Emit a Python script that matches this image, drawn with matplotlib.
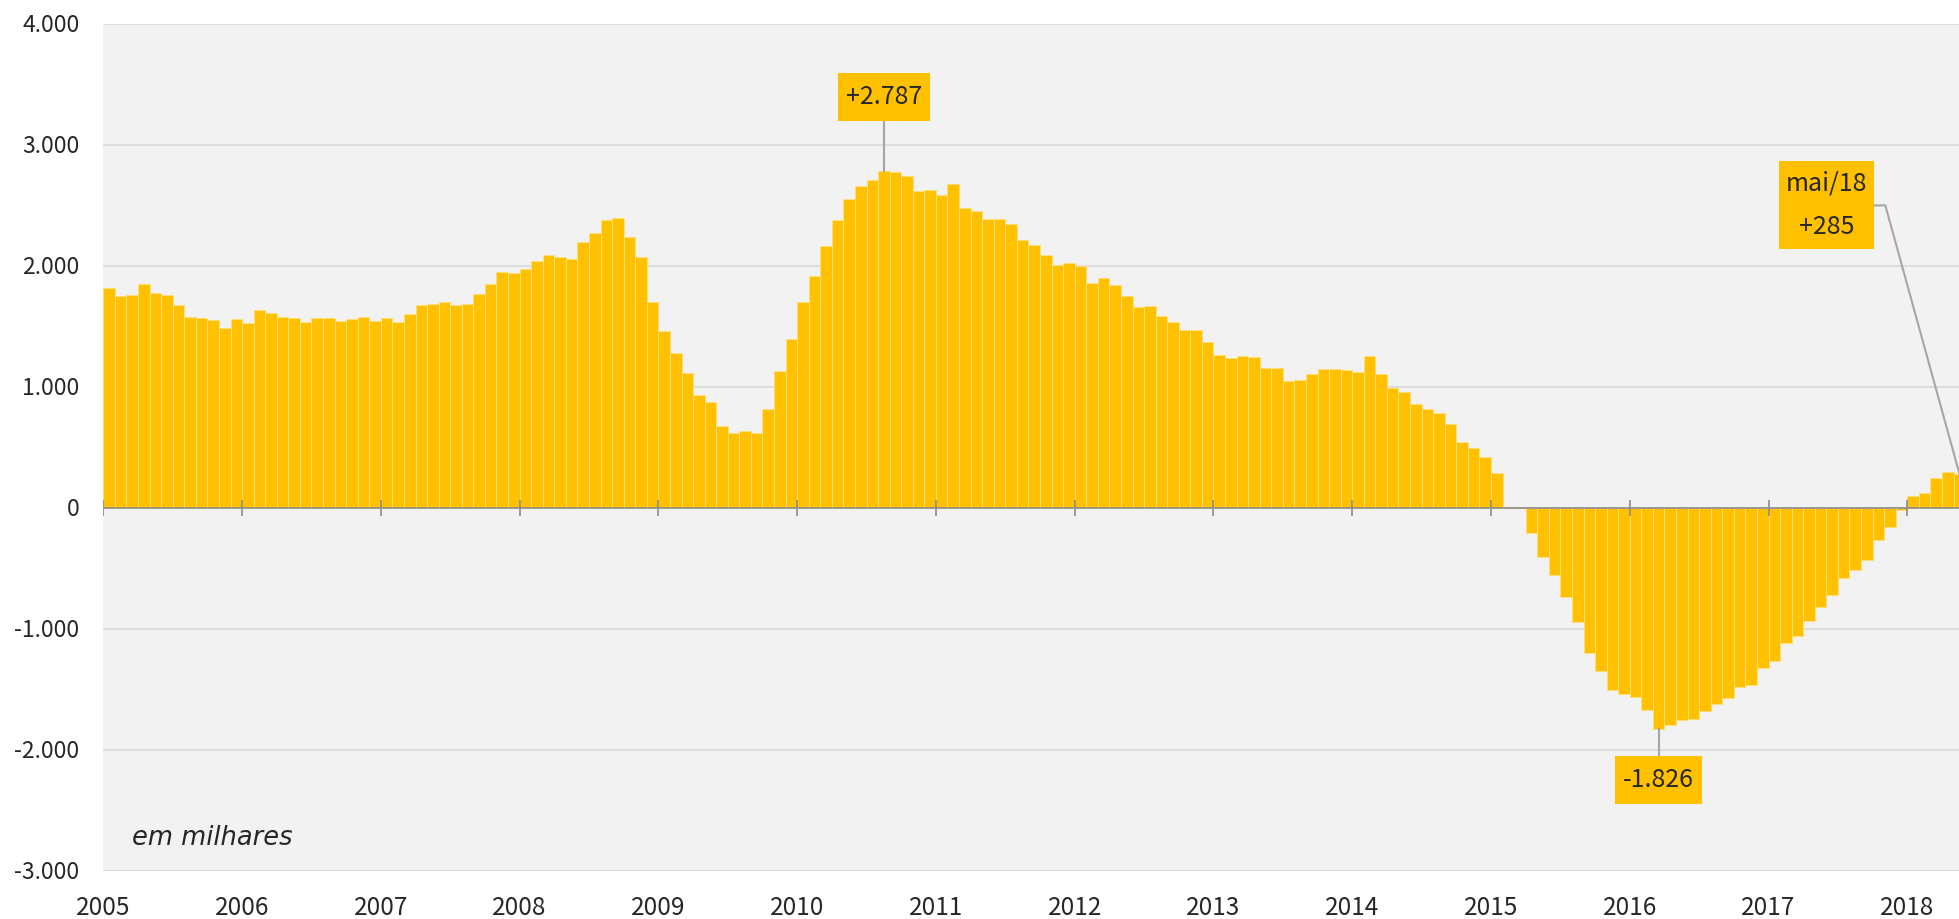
"""Saldo de empregos formais acumulado em 12 meses (em milhares), jan/2005 a mai/2018."""

import matplotlib
matplotlib.use("Agg")
import matplotlib.pyplot as plt
import numpy as np
from matplotlib.patches import Rectangle
from matplotlib.transforms import offset_copy

plt.rcParams["font.family"] = ["Noto Sans CJK JP", "DejaVu Sans"]

# 12-month accumulated balance, thousands, one value per month
y2005 = [1818, 1752, 1758, 1851, 1777, 1763, 1675, 1581, 1573, 1557, 1490, 1562]
y2006 = [1529, 1639, 1612, 1581, 1570, 1535, 1570, 1570, 1548, 1562, 1581, 1548]
y2007 = [1573, 1537, 1603, 1675, 1686, 1705, 1678, 1686, 1766, 1851, 1948, 1940]
y2008 = [1978, 2039, 2094, 2077, 2061, 2198, 2273, 2378, 2397, 2243, 2072, 1705]
y2009 = [1463, 1278, 1119, 931, 876, 680, 620, 634, 620, 818, 1130, 1397]
y2010 = [1703, 1915, 2168, 2378, 2557, 2661, 2708, 2787, 2780, 2747, 2623, 2628]
y2011 = [2590, 2681, 2482, 2452, 2389, 2389, 2347, 2218, 2176, 2094, 2008, 2025]
y2012 = [2003, 1860, 1898, 1843, 1749, 1661, 1667, 1590, 1537, 1468, 1471, 1372]
y2013 = [1267, 1237, 1254, 1245, 1160, 1154, 1047, 1055, 1110, 1149, 1146, 1141]
y2014 = [1124, 1259, 1110, 989, 961, 857, 815, 782, 694, 548, 496, 422]
y2015 = [290, 8, 11, -207, -405, -554, -733, -942, -1198, -1350, -1504, -1535]
y2016 = [-1562, -1672, -1826, -1796, -1752, -1741, -1678, -1623, -1568, -1477, -1460, -1325]
y2017 = [-1265, -1119, -1061, -931, -818, -716, -581, -510, -430, -264, -154, -17]
y2018 = [102, 124, 248, 298, 285]

years = list(range(2005, 2019))
yticks = [-3000, -2000, -1000, 0, 1000, 2000, 3000, 4000]

values = np.array(y2005 + y2006 + y2007 + y2008 + y2009 + y2010 + y2011
                  + y2012 + y2013 + y2014 + y2015 + y2016 + y2017 + y2018)
months = np.arange(len(values))

GOLD = "#FFC000"
TEXT = "#262626"
LINE = "#a6a6a6"


def fmt(v):
    return f"{v:,.0f}".replace(",", ".")


def callout(ax, x, y, text, box, line_pts):
    """box = (x0, y0, x1, y1) in data units, line_pts = polyline from the bar to the box."""
    xs, ys = zip(*line_pts)
    ax.plot(xs, ys, color=LINE, lw=1.5, zorder=4, clip_on=False)
    x0, y0, x1, y1 = box
    ax.add_patch(Rectangle((x0, y0), x1 - x0, y1 - y0, facecolor=GOLD,
                           edgecolor="none", zorder=5))
    ax.text((x0 + x1) / 2, (y0 + y1) / 2, text, ha="center", va="center",
            fontsize=18, color=TEXT, zorder=6, linespacing=1.9)


fig = plt.figure(figsize=(19.59, 9.19), dpi=100)
ax = fig.add_axes([0.05273, 0.05223, 0.94727, 0.92165])
ax.set_facecolor("#f2f2f2")
for s in ax.spines.values():
    s.set_visible(False)

ax.bar(months, values, width=1.0, align="edge", color=GOLD,
       edgecolor="#ffdf7a", linewidth=0.7, zorder=2)

ax.set_xlim(0, 160.47)
ax.set_ylim(-3000, 4000)
ax.set_xticks([])
ax.set_yticks([])
for v in yticks:
    ax.axhline(v, color="#d9d9d9", lw=1.2, zorder=1)

# zero line with year ticks across it
ax.axhline(0, color="#8c8c8c", lw=1.2, zorder=3)
year_pos = np.arange(len(years)) * 12
ax.vlines(year_pos, -70, 70, color="#8c8c8c", lw=1.2, zorder=3)

ytrans = offset_copy(ax.get_yaxis_transform(), fig=fig, x=-24, y=-7.5, units="dots")
for v in yticks:
    ax.text(0, v, fmt(v), transform=ytrans, ha="right", va="baseline",
            fontsize=16.5, color=TEXT)

xtrans = offset_copy(ax.get_xaxis_transform(), fig=fig, y=-44, units="dots")
for p, yr in zip(year_pos, years):
    ax.text(p, 0, str(yr), transform=xtrans, ha="center", va="baseline",
            fontsize=17.5, color=TEXT)

ax.text(0.0155, 0.039, "em milhares", transform=ax.transAxes, ha="left",
        va="center", fontsize=18.5, style="italic", family="DejaVu Sans", color=TEXT)

# callouts: peak, trough, last value
i_max = int(np.argmax(values))
i_min = int(np.argmin(values))
i_last = len(values) - 1
cx = i_max + 0.5
callout(ax, cx, values[i_max], "+" + fmt(values[i_max]),
        (cx - 4.0, 3195, cx + 4.0, 3598),
        [(cx, values[i_max]), (cx, 3195)])
cx = i_min + 0.5
callout(ax, cx, values[i_min], fmt(values[i_min]),
        (cx - 3.75, -2450, cx + 3.75, -2053),
        [(cx, values[i_min]), (cx, -2053)])
cx = i_last + 0.5
callout(ax, cx, values[i_last], "mai/18\n+" + fmt(values[i_last]),
        (144.9, 2137, 153.1, 2870),
        [(cx, values[i_last]), (154.1, 2501), (153.1, 2501)])

fig.savefig("out.png", dpi=100)
